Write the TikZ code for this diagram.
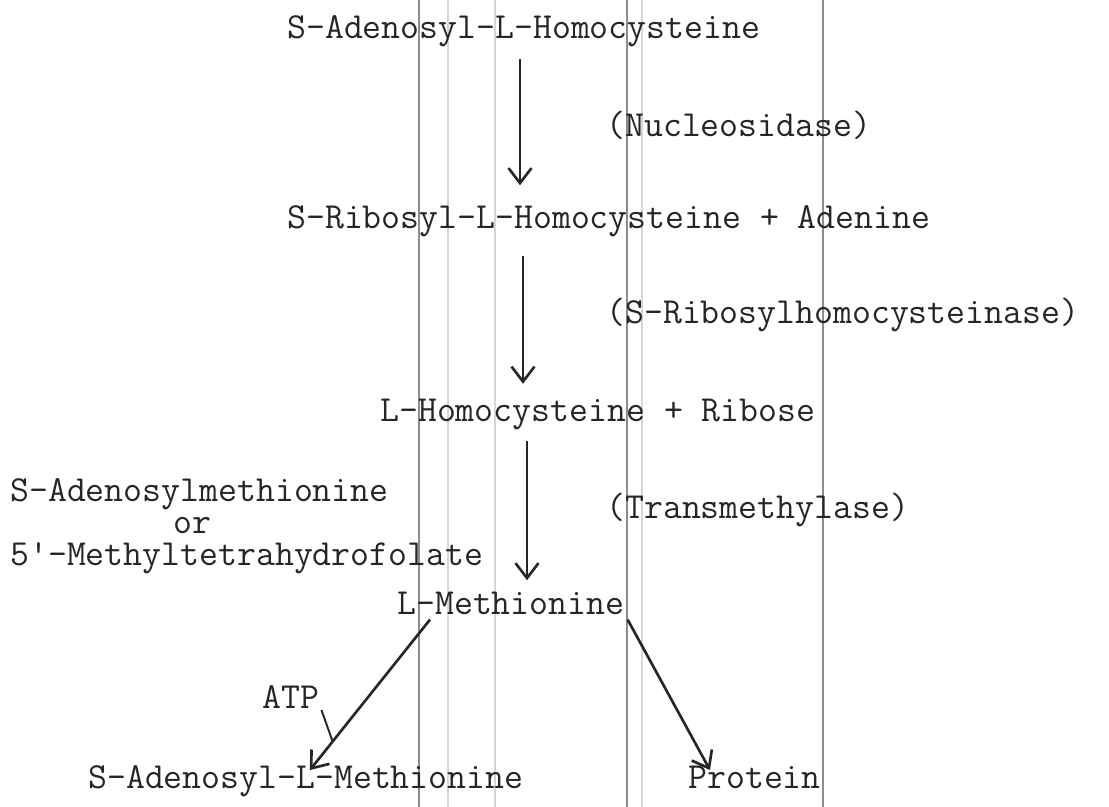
\documentclass[tikz,border=0pt]{standalone}
\usepackage{fontspec}
\usepackage{xcolor}
\usepackage{tikz}
\usetikzlibrary{arrows.meta,calc,positioning}
\definecolor{Ink}{HTML}{262626}
\definecolor{Scan}{HTML}{8C8C8C}
\definecolor{PaleScan}{HTML}{D6D6D6}

\begin{document}
\begin{tikzpicture}[x=0.02cm,y=-0.02cm,
  chem/.style={font=\ttfamily\fontsize{20.9pt}{22pt}\selectfont,text=Ink,
    inner sep=0pt,anchor=base west,text height=10pt,text depth=3pt},
  donor/.style={font=\ttfamily\fontsize{20.9pt}{18.2pt}\selectfont,text=Ink,
    inner sep=0pt,anchor=north west,align=left},
  rxn/.style={draw=Ink,line width=1.5pt,-{Straight Barb[length=0.3cm,width=0.46cm]}},
  tick/.style={draw=Ink,line width=1.1pt}]
\useasboundingbox (0,0) rectangle (1109,807);
\fill[white] (0,0) rectangle (1109,807);

% Scan streaks on the sheet.
\foreach \x in {419,627,823} {\draw[Scan,line width=0.8pt] (\x,0)--(\x,807);}
\foreach \x in {448,495,642} {\draw[PaleScan,line width=0.6pt] (\x,0)--(\x,807);}

% Main chain.
\node[chem] (sah) at (287,39) {S-Adenosyl-L-Homocysteine};
\node[chem] (nuc) at (606,137) {(Nucleosidase)};
\node[chem] (srh) at (287,229) {S-Ribosyl-L-Homocysteine + Adenine};
\node[chem] (srhase) at (606,324) {(S-Ribosylhomocysteinase)};
\node[chem] (lhr) at (380,421) {L-Homocysteine + Ribose};
\node[chem] (tme) at (606,518) {(Transmethylase)};
\node[donor] (methyl) at (10,478) {S-Adenosylmethionine\\
  \hspace*{3.26cm}or\\5'-Methyltetrahydrofolate};
\node[chem] (lm) at (397,614) {L-Methionine};
\node[chem] (atp) at (262,708) {ATP};
\node[chem] (sam) at (88,788) {S-Adenosyl-L-Methionine};
\node[chem] (prot) at (688,788) {Protein};

\coordinate (a1) at (520,0);
\coordinate (a2) at (523,0);
\coordinate (a3) at (527,0);
\draw[rxn,shorten <=8pt,shorten >=14.7pt] (sah.south -| a1) -- (srh.north -| a1);
\draw[rxn,shorten <=12pt,shorten >=11pt] (srh.south -| a2) -- (lhr.north -| a2);
\draw[rxn,shorten <=8pt,shorten >=9pt] (lhr.south -| a3) -- (lm.north -| a3);

% Branches.
\draw[rxn] ([xshift=0.66cm]lm.south west) -- coordinate[pos=0.81] (atpjoin)
  ([xshift=0.08cm]sam.north);
\draw[rxn] ([xshift=0.06cm]lm.south east) -- ([xshift=0.44cm]prot.north west);
\draw[tick] ([xshift=0.04cm,yshift=-0.04cm]atp.base east) -- (atpjoin);
\end{tikzpicture}
\end{document}
